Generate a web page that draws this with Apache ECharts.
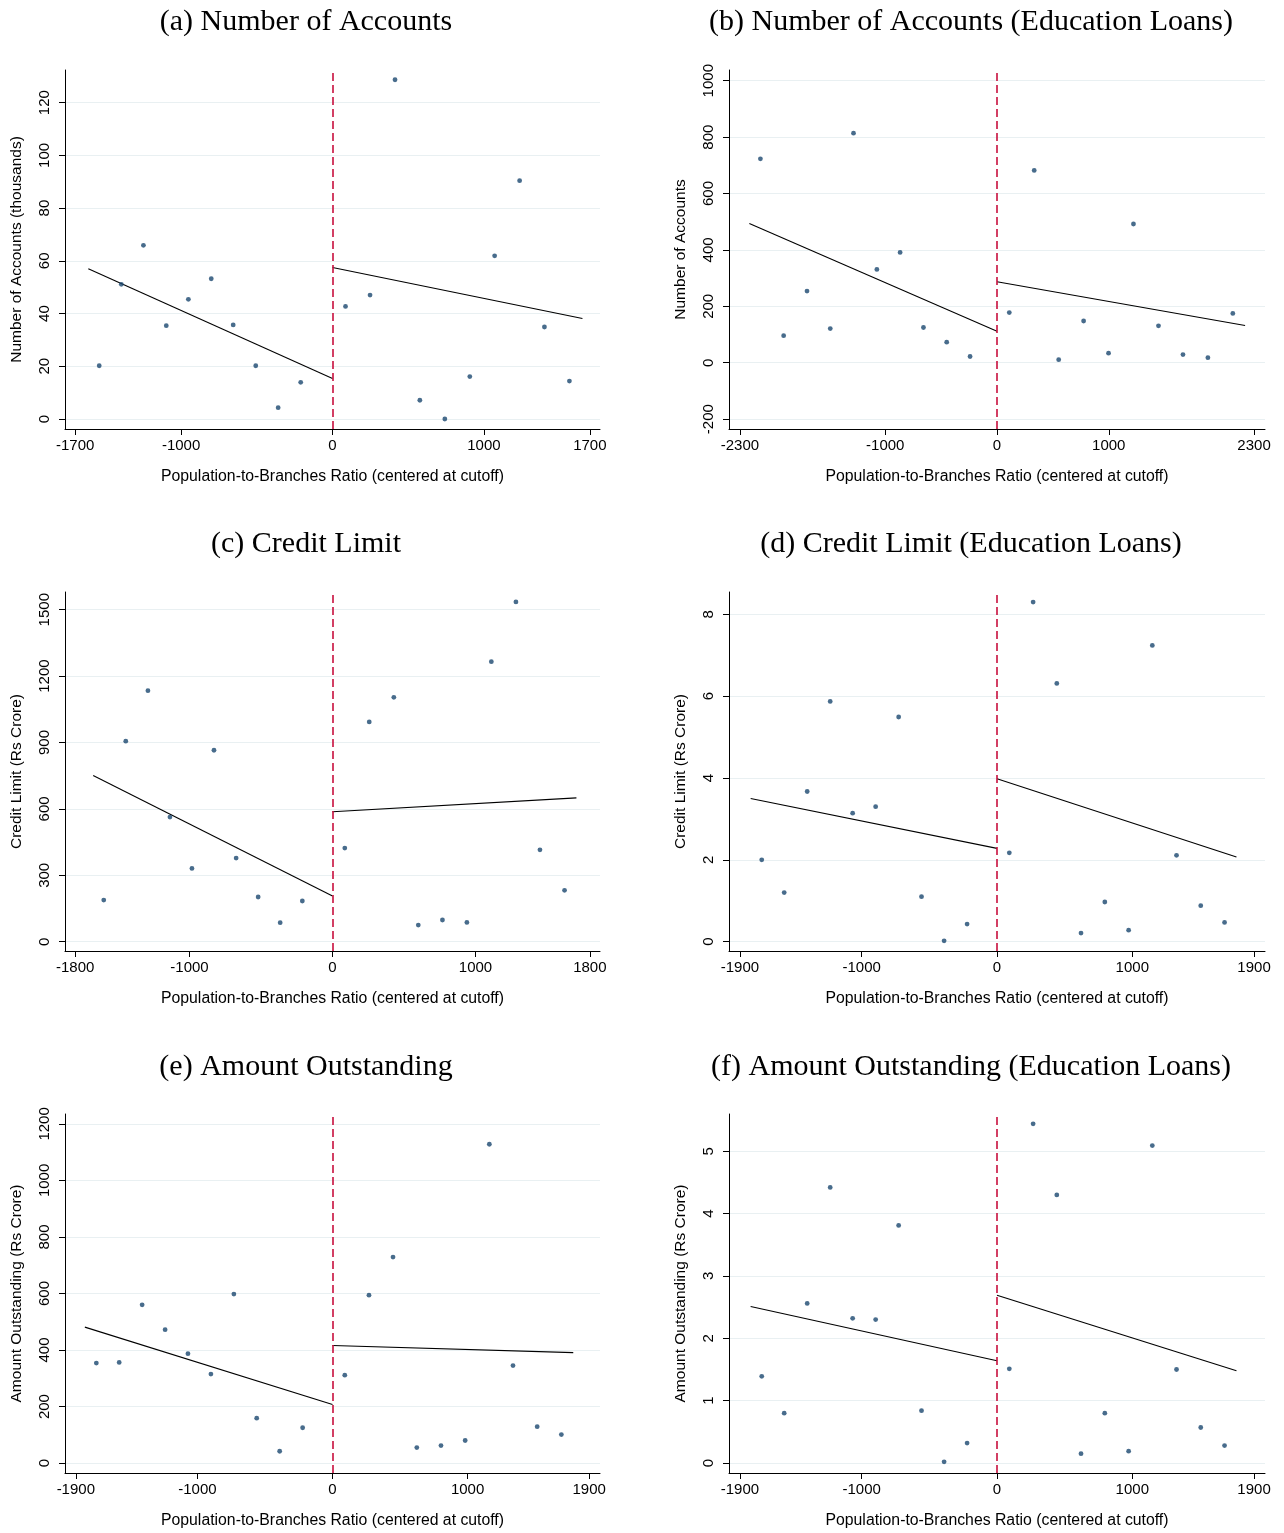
<!DOCTYPE html>
<html>
<head>
<meta charset="utf-8">
<script src="https://cdn.jsdelivr.net/npm/echarts@6/dist/echarts.min.js"></script>
<style>
  html, body { margin: 0; background: #fff; }
  #chart { width: 1284px; height: 1533px; }
</style>
</head>
<body>
<div id="chart"></div>
<script>
// (a) Number of Accounts
const xA = [-1541, -1395, -1249, -1098, -952, -801, -656, -507, -359, -210, 86, 248, 413, 577, 742, 907, 1071, 1236, 1400, 1565];
const yA = [20.2, 51.1, 65.9, 35.4, 45.4, 53.2, 35.7, 20.2, 4.3, 13.9, 42.7, 47.0, 128.7, 7.1, 0, 16.1, 61.9, 90.4, 34.9, 14.4];
const fitLeftA = [[-1613, 57.0], [0, 15.4]];
const fitRightA = [[0, 57.5], [1651, 38.1]];

// (b) Number of Accounts (Education Loans)
const xB = [-2117, -1909, -1700, -1492, -1284, -1075, -867, -658, -450, -241, 110, 333, 552, 775, 998, 1221, 1445, 1664, 1887, 2110];
const yB = [723, 96, 254, 121, 814, 331, 391, 125, 73, 22, 178, 682, 11, 148, 34, 492, 131, 29, 18, 175];
const fitLeftB = [[-2216, 494], [0, 112]];
const fitRightB = [[0, 287], [2220, 132]];

// (c) Credit Limit
const xC = [-1600, -1446, -1291, -1137, -983, -829, -674, -520, -366, -211, 86, 257, 429, 600, 769, 940, 1111, 1283, 1451, 1623];
const yC = [188, 906, 1134, 563, 331, 865, 378, 202, 86, 184, 423, 993, 1104, 75, 98, 87, 1265, 1535, 415, 232];
const fitLeftC = [[-1674, 751], [0, 206]];
const fitRightC = [[0, 587], [1706, 650]];

// (d) Credit Limit (Education Loans)
const xD = [-1739, -1573, -1403, -1233, -1067, -897, -727, -558, -391, -221, 91, 267, 442, 621, 797, 973, 1148, 1327, 1506, 1682];
const yD = [2.00, 1.20, 3.67, 5.87, 3.14, 3.30, 5.49, 1.10, 0.02, 0.43, 2.17, 8.30, 6.31, 0.21, 0.97, 0.28, 7.24, 2.11, 0.88, 0.47];
const fitLeftD = [[-1821, 3.50], [0, 2.28]];
const fitRightD = [[0, 3.98], [1770, 2.07]];

// (e) Amount Outstanding
const xE = [-1748, -1579, -1409, -1239, -1070, -900, -730, -561, -391, -221, 91, 270, 448, 624, 803, 982, 1161, 1336, 1515, 1694];
const yE = [354, 356, 560, 472, 387, 315, 598, 159, 42, 125, 311, 594, 729, 55, 62, 80, 1128, 345, 129, 101];
const fitLeftE = [[-1833, 481], [0, 207]];
const fitRightE = [[0, 416], [1782, 391]];

// (f) Amount Outstanding (Education Loans)
const xF = [-1739, -1573, -1403, -1233, -1067, -897, -727, -558, -391, -221, 91, 267, 442, 621, 797, 973, 1148, 1327, 1506, 1682];
const yF = [1.39, 0.80, 2.56, 4.42, 2.32, 2.30, 3.81, 0.84, 0.02, 0.32, 1.51, 5.44, 4.30, 0.15, 0.80, 0.19, 5.09, 1.50, 0.57, 0.28];
const fitLeftF = [[-1821, 2.51], [0, 1.64]];
const fitRightF = [[0, 2.69], [1770, 1.48]];

// tick labels
const xTicksA = [-1700, -1000, 0, 1000, 1700];
const xTicksB = [-2300, -1000, 0, 1000, 2300];
const xTicksC = [-1800, -1000, 0, 1000, 1800];
const xTicksDEF = [-1900, -1000, 0, 1000, 1900];
const yTicksA = [0, 20, 40, 60, 80, 100, 120];
const yTicksB = [-200, 0, 200, 400, 600, 800, 1000];
const yTicksC = [0, 300, 600, 900, 1200, 1500];
const yTicksD = [0, 2, 4, 6, 8];
const yTicksE = [0, 200, 400, 600, 800, 1000, 1200];
const yTicksF = [0, 1, 2, 3, 4, 5];

const xTitle = 'Population-to-Branches Ratio (centered at cutoff)';

const panels = [
  { title: '(a) Number of Accounts', yName: 'Number of Accounts (thousands)', x: xA, y: yA, fitL: fitLeftA, fitR: fitRightA, xTicks: xTicksA, yTicks: yTicksA, xLim: 1767, yMin: -3.8, yMax: 132.4 },
  { title: '(b) Number of Accounts (Education Loans)', yName: 'Number of Accounts', x: xB, y: yB, fitL: fitLeftB, fitR: fitRightB, xTicks: xTicksB, yTicks: yTicksB, xLim: 2398, yMin: -235, yMax: 1038 },
  { title: '(c) Credit Limit', yName: 'Credit Limit (Rs Crore)', x: xC, y: yC, fitL: fitLeftC, fitR: fitRightC, xTicks: xTicksC, yTicks: yTicksC, xLim: 1871, yMin: -42, yMax: 1580 },
  { title: '(d) Credit Limit (Education Loans)', yName: 'Credit Limit (Rs Crore)', x: xD, y: yD, fitL: fitLeftD, fitR: fitRightD, xTicks: xTicksDEF, yTicks: yTicksD, xLim: 1981, yMin: -0.228, yMax: 8.545 },
  { title: '(e) Amount Outstanding', yName: 'Amount Outstanding (Rs Crore)', x: xE, y: yE, fitL: fitLeftE, fitR: fitRightE, xTicks: xTicksDEF, yTicks: yTicksE, xLim: 1980, yMin: -35, yMax: 1235 },
  { title: '(f) Amount Outstanding (Education Loans)', yName: 'Amount Outstanding (Rs Crore)', x: xF, y: yF, fitL: fitLeftF, fitR: fitRightF, xTicks: xTicksDEF, yTicks: yTicksF, xLim: 1981, yMin: -0.16, yMax: 5.597 }
];

const colLeft = [65, 729];
const colWidth = [535, 536];
const titleCenter = [301, 966];
const rowTop = [70, 592, 1114];
const rowTitleY = [18, 540, 1063];
const plotHeight = 359;

const sans = '"Liberation Sans", Arial, sans-serif';
const serif = '"Liberation Serif", "Times New Roman", serif';
const dotColor = '#1a476f';
const cutoffColor = '#c8103e';
const gridColor = '#e9f0f2';

const option = {
  animation: false,
  backgroundColor: '#fff',
  title: [],
  grid: [],
  xAxis: [],
  yAxis: [],
  series: []
};

panels.forEach((p, i) => {
  const col = i % 2;
  const row = Math.floor(i / 2);

  option.title.push({
    text: p.title,
    left: titleCenter[col],
    top: rowTitleY[row] - 16,
    textAlign: 'center',
    textStyle: { fontFamily: serif, fontSize: 30, fontWeight: 'normal', color: '#000' }
  });

  option.grid.push({
    left: colLeft[col],
    top: rowTop[row],
    width: colWidth[col],
    height: plotHeight,
    containLabel: false
  });

  option.xAxis.push({
    type: 'value',
    gridIndex: i,
    min: -p.xLim,
    max: p.xLim,
    name: xTitle,
    nameLocation: 'middle',
    nameGap: 40,
    nameTextStyle: { fontFamily: sans, fontSize: 15.8, color: '#000' },
    axisLine: { onZero: false, lineStyle: { color: '#000', width: 1 } },
    axisTick: { customValues: p.xTicks, length: 6, lineStyle: { color: '#000' } },
    axisLabel: {
      customValues: p.xTicks,
      margin: 9,
      fontFamily: sans,
      fontSize: 15,
      color: '#000',
      formatter: v => String(v)
    },
    splitLine: { show: false }
  });

  option.yAxis.push({
    type: 'value',
    gridIndex: i,
    min: p.yMin,
    max: p.yMax,
    name: p.yName,
    nameLocation: 'middle',
    nameRotate: 90,
    nameGap: 40,
    nameTextStyle: { fontFamily: sans, fontSize: 15.5, color: '#000' },
    axisLine: { show: true, onZero: false, lineStyle: { color: '#000', width: 1 } },
    axisTick: { show: true, customValues: p.yTicks, length: 6, lineStyle: { color: '#000' } },
    axisLabel: {
      customValues: p.yTicks,
      rotate: 90,
      margin: 13,
      fontFamily: sans,
      fontSize: 15,
      color: '#000',
      formatter: v => String(v)
    },
    splitLine: { show: true, lineStyle: { color: gridColor, width: 1 } }
  });

  option.series.push({
    type: 'scatter',
    xAxisIndex: i,
    yAxisIndex: i,
    symbolSize: 4.8,
    itemStyle: { color: dotColor },
    data: p.x.map((xv, k) => [xv, p.y[k]]),
    markLine: {
      silent: true,
      symbol: 'none',
      label: { show: false },
      lineStyle: { color: cutoffColor, width: 1.6, type: [8, 4] },
      data: [{ xAxis: 0 }]
    },
    z: 3
  });

  [p.fitL, p.fitR].forEach(fit => {
    option.series.push({
      type: 'line',
      xAxisIndex: i,
      yAxisIndex: i,
      showSymbol: false,
      symbol: 'none',
      lineStyle: { color: '#000', width: 1.1 },
      data: fit,
      z: 2
    });
  });
});

const chart = echarts.init(document.getElementById('chart'));
chart.setOption(option);
window.addEventListener('resize', () => chart.resize());
</script>
</body>
</html>
